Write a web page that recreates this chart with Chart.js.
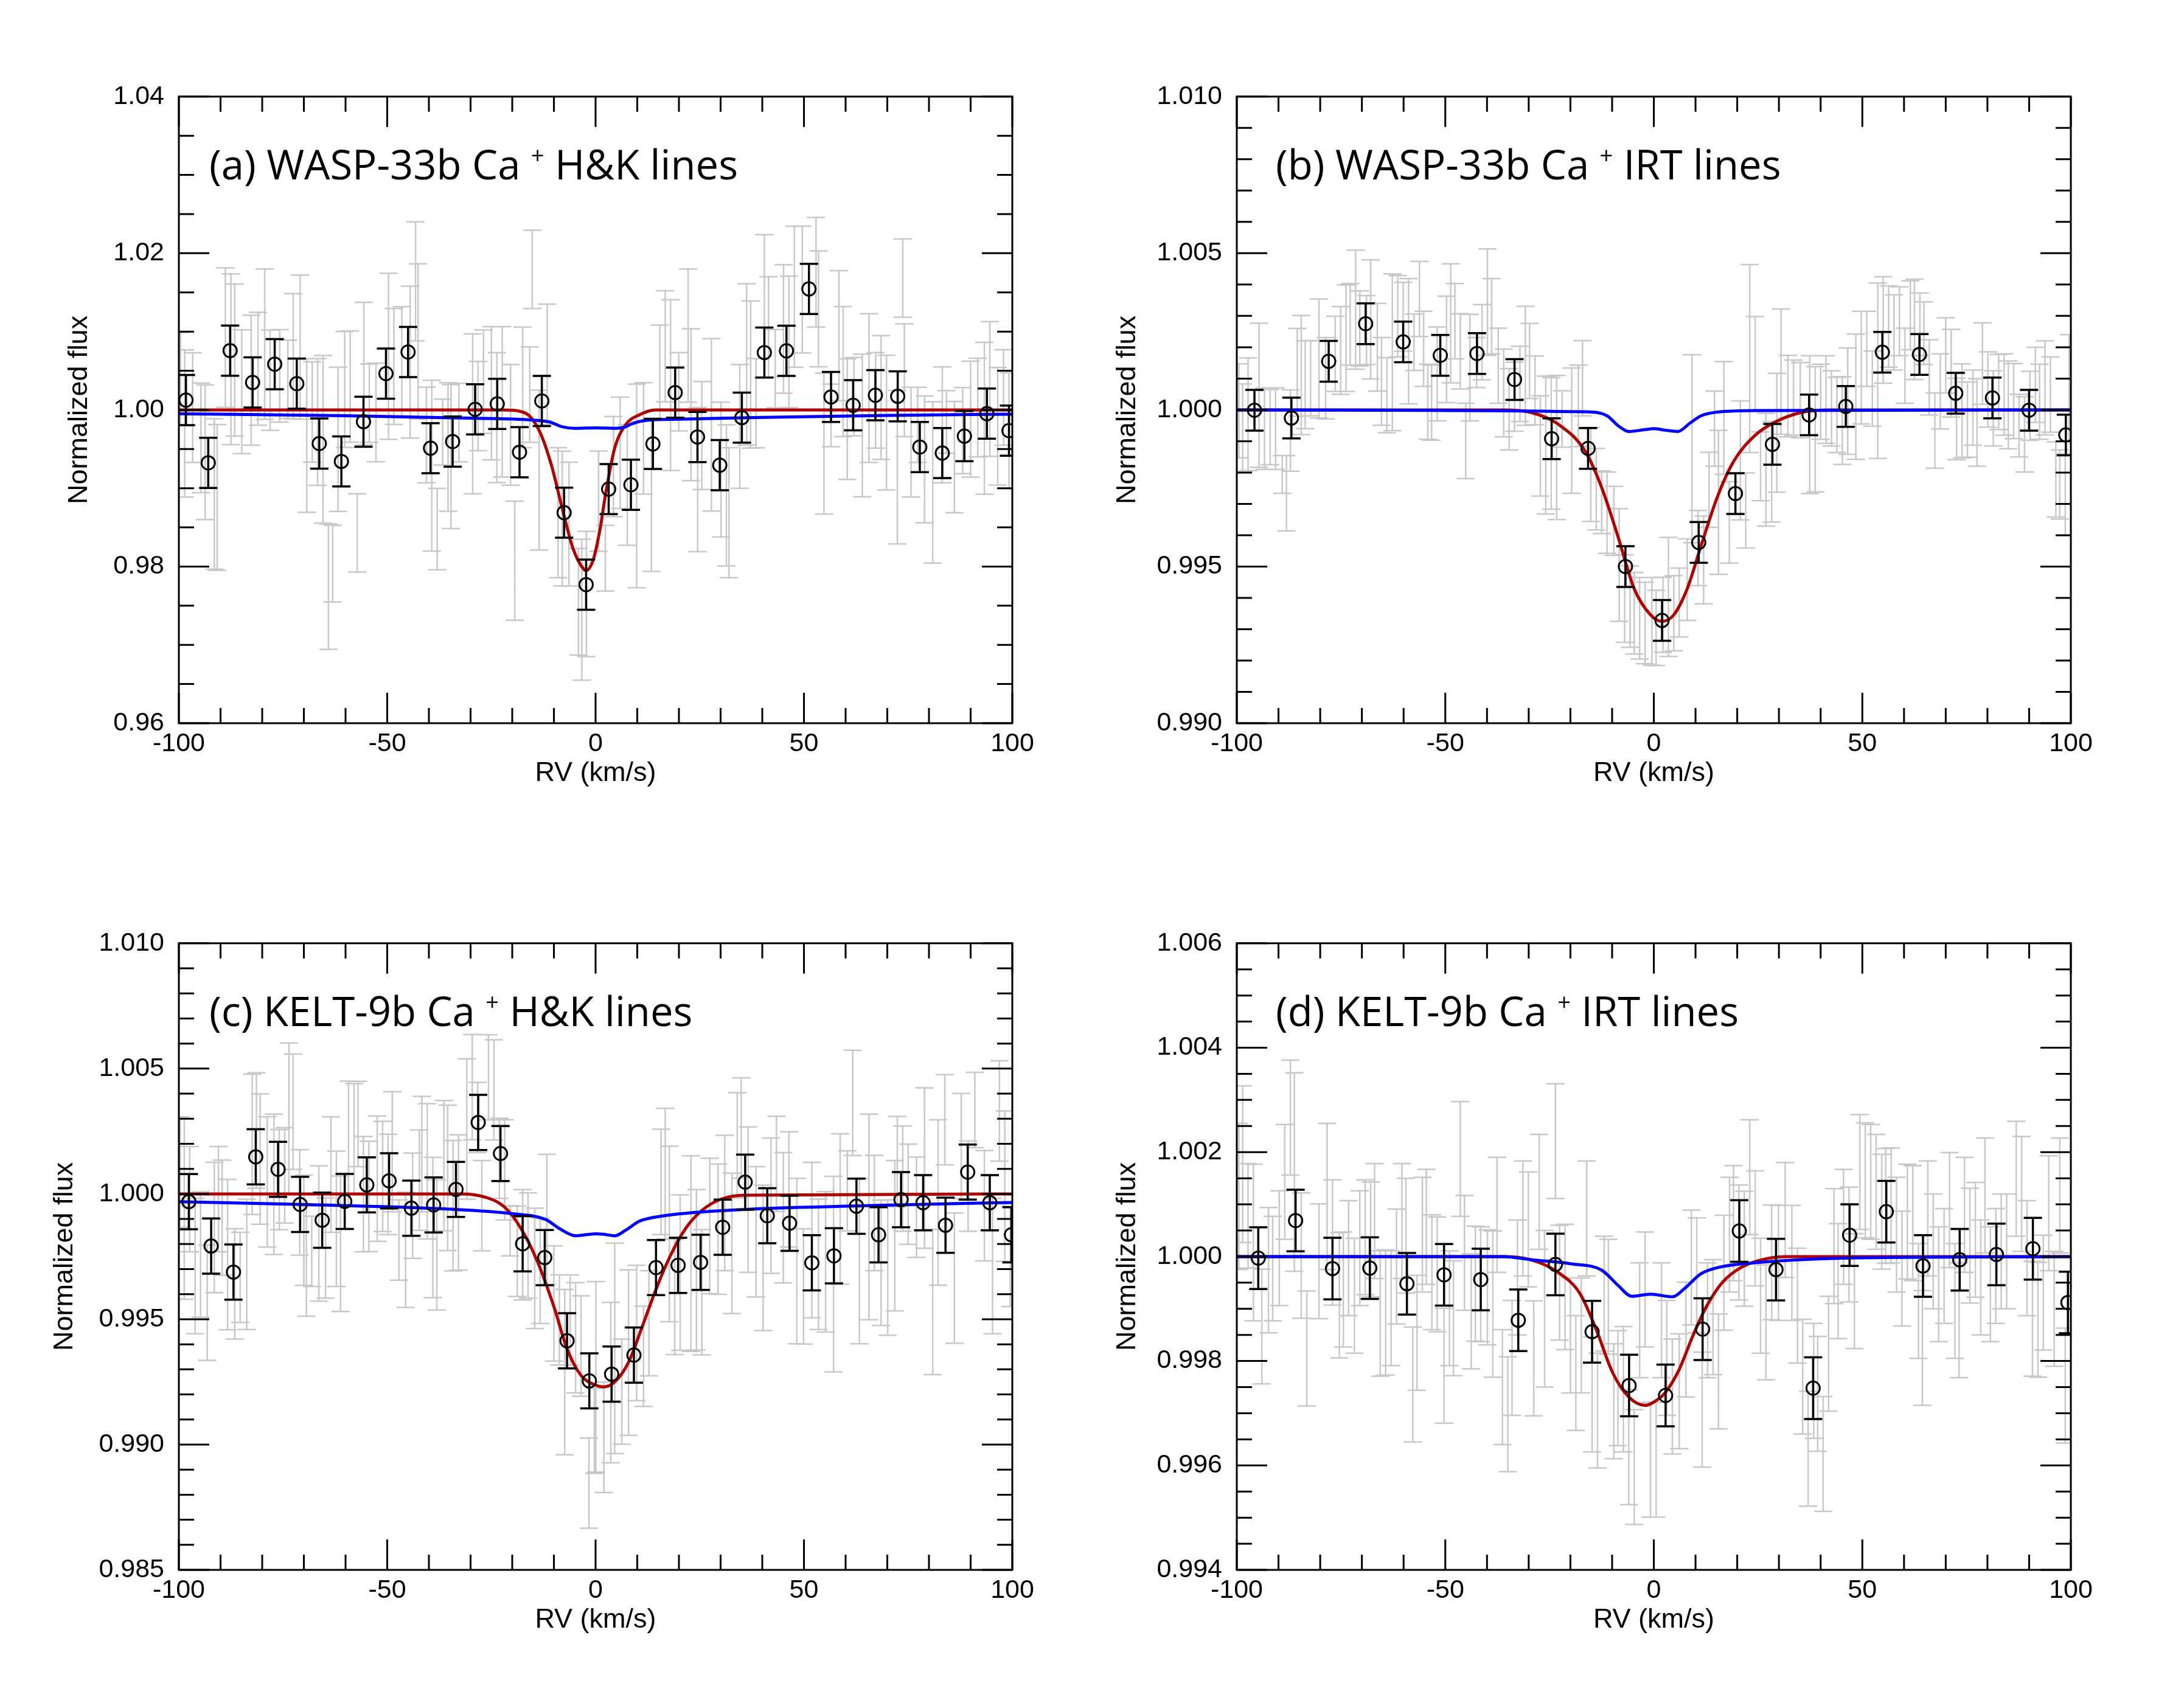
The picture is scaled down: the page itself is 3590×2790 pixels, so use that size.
<!DOCTYPE html>
<html>
<head>
<meta charset="utf-8">
<script src="https://cdn.jsdelivr.net/npm/chart.js@4.4.1/dist/chart.umd.min.js"></script>
<style>
  html, body { margin: 0; padding: 0; background: #fff; }
  body { width: 3590px; height: 2790px; position: relative; overflow: hidden; }
  canvas { position: absolute; }
</style>
</head>
<body>
<canvas id="pa"></canvas>
<canvas id="pb"></canvas>
<canvas id="pc"></canvas>
<canvas id="pd"></canvas>
<script>
// ── axis labels ─────────────────────────────────────────────
const xTicks = ['-100', '-50', '0', '50', '100'];
const aYTicks = ['0.96', '0.98', '1.00', '1.02', '1.04'];
const bYTicks = ['0.990', '0.995', '1.000', '1.005', '1.010'];
const cYTicks = ['0.985', '0.990', '0.995', '1.000', '1.005', '1.010'];
const dYTicks = ['0.994', '0.996', '0.998', '1.000', '1.002', '1.004', '1.006'];

const titleA = ['(a) WASP-33b Ca', '+', 'H&K lines'];
const titleB = ['(b) WASP-33b Ca', '+', 'IRT lines'];
const titleC = ['(c) KELT-9b Ca', '+', 'H&K lines'];
const titleD = ['(d) KELT-9b Ca', '+', 'IRT lines'];

// ── (a) WASP-33b H&K ────────────────────────────────────────
const aBinX = [-98.3, -92.95, -87.7, -82.3, -77.0, -71.7, -66.3, -61.0, -55.7, -50.3, -45.0, -39.6, -34.3, -28.9, -23.6, -18.25, -12.9, -7.55, -2.27,
  3.14, 8.48, 13.76, 19.1, 24.45, 29.8, 35.1, 40.5, 45.8, 51.2, 56.5, 61.8, 67.15, 72.5, 77.8, 83.2, 88.5, 93.9, 99.2];
const aBinY = [1.00125, 0.99324, 1.00757, 1.0035, 1.00584, 1.00335, 0.9957, 0.99342, 0.99849, 1.00463, 1.00739, 0.99511, 0.99596, 1.00007, 1.00077, 0.9946, 1.00114, 0.98688, 0.97769,
  0.98989, 0.99044, 0.99566, 1.00221, 0.99654, 0.99294, 0.99901, 1.00732, 1.00754, 1.01544, 1.00165, 1.00059, 1.00187, 1.00173, 0.99526, 0.99449, 0.99665, 0.99952, 0.99735];
const aBinErr = 0.0032;
const aRawX = [-99.6, -98.6, -96.7, -94.7, -93.7, -91.5, -90.8, -88.85, -87.5, -86.6, -84.9, -82.65, -81.0, -79.4, -78.1, -75.8, -73.85, -72.55, -70.9, -69.3,
  -68.0, -66.7, -65.4, -64.1, -63.1, -61.8, -60.2, -58.9, -57.2, -55.6, -54.3, -52.7, -49.7, -48.4, -46.5, -44.5, -43.2, -42.6, -40.6, -39.3,
  -38.0, -36.7, -35.4, -34.7, -32.8, -29.5, -28.2, -26.9, -25.0, -23.7, -22.4, -20.4, -19.4, -17.5, -15.8, -15.2, -13.55, -11.6, -9.0, -8.0,
  -6.4, -4.1, -3.3, -2.2,
  0.72, 2.35, 4.3, 5.9, 7.6, 9.85, 11.5, 13.4, 15.4, 16.7, 18.0, 19.95, 22.2, 22.9, 24.5, 25.5, 27.8, 30.1, 31.4, 32.0,
  34.6, 36.25, 37.2, 38.5, 40.5, 41.5, 43.1, 45.1, 46.4, 47.7, 49.6, 52.9, 53.5, 54.8, 56.5, 58.4, 59.4, 60.4, 62.0, 64.0,
  65.6, 67.2, 68.5, 69.8, 72.4, 73.7, 74.1, 75.7, 77.3, 78.95, 80.9, 83.2, 84.2, 86.1, 88.1, 90.0, 91.7, 93.3, 94.6, 96.5,
  97.9, 99.2];
const aRawY = [1.00397, 0.99827, 1.00029, 0.99643, 0.9946, 0.98927, 0.98882, 1.00923, 1.00647, 1.00636, 1.00232, 1.00379, 1.00526, 1.00838, 1.00379, 1.00434, 1.0039, 1.00684, 1.00801, 0.99673,
  0.99974, 0.99846, 0.99625, 0.97743, 0.98037, 0.99625, 1.00261, 1.00298, 0.9843, 1.00463, 1.00085, 0.99967, 1.00684, 1.00555, 1.00618, 1.0061, 1.0164, 1.00875, 0.9968, 0.99287,
  0.98478, 0.99717, 0.99526, 0.99404, 0.99838, 0.99949, 1.00048, 1.0036, 1.00213, 0.99901, 1.00103, 0.99809, 0.98074, 1.00287, 1.00195, 1.01794, 0.99232, 1.00581, 0.98688, 0.98614,
  0.98541, 0.9755, 0.9745, 0.9765,
  0.98835, 0.98107, 0.99276, 0.99452, 0.99041, 0.9903, 0.99636, 0.98908, 1.00482, 1.00812, 1.00316, 1.00232, 1.00948, 1.00066, 0.9911, 0.99673, 0.99809, 0.99239, 0.98908, 0.98688,
  0.9979, 1.00581, 1.00452, 1.00085, 1.01327, 1.01059, 1.00526, 1.01033, 1.00868, 1.01445, 1.01537, 1.01757, 1.0129, 0.9957, 0.9993, 1.00948, 1.00489, 0.99882, 1.00169, 0.99801,
  1.00279, 1.00121, 1.00158, 0.99838, 0.99268, 1.01684, 1.00379, 0.99588, 0.99809, 0.99368, 0.99074, 0.99809, 0.99846, 0.99397, 0.99735, 0.99882, 1.00029, 0.99893, 1.00268, 0.9979,
  1.00158, 0.99735];
const aRawErr = [0.0059, 0.0094, 0.007, 0.007, 0.0086, 0.0096, 0.0093, 0.0089, 0.0109, 0.0097, 0.0079, 0.0083, 0.0072, 0.0096, 0.0064, 0.0059, 0.005, 0.008, 0.0092, 0.0098,
  0.0064, 0.0081, 0.0107, 0.008, 0.0049, 0.0092, 0.0074, 0.0071, 0.005, 0.0091, 0.005, 0.0063, 0.0106, 0.0074, 0.007, 0.0097, 0.0076, 0.0099, 0.0061, 0.0109,
  0.0052, 0.0042, 0.0082, 0.0092, 0.005, 0.0102, 0.0057, 0.0066, 0.0085, 0.0083, 0.0096, 0.0077, 0.0076, 0.0077, 0.0061, 0.005, 0.0102, 0.0077, 0.0083, 0.0086,
  0.0079, 0.0068, 0.009, 0.008,
  0.0064, 0.0042, 0.0064, 0.0071, 0.0077, 0.013, 0.0071, 0.0097, 0.006, 0.0071, 0.0109, 0.005, 0.0085, 0.0097, 0.0092, 0.0069, 0.011, 0.0086, 0.009, 0.0083,
  0.0079, 0.0103, 0.0094, 0.0057, 0.0091, 0.0064, 0.005, 0.0082, 0.0084, 0.009, 0.0081, 0.007, 0.0074, 0.009, 0.004, 0.0083, 0.0083, 0.0077, 0.005, 0.0091,
  0.0095, 0.0061, 0.0079, 0.0086, 0.0098, 0.005, 0.0072, 0.007, 0.0048, 0.0081, 0.0103, 0.0074, 0.004, 0.0071, 0.0055, 0.0074, 0.0063, 0.0097, 0.0086, 0.0075,
  0.0061, 0.0074];
const aRedX = [-100, -30, -22, -18.4, -15.8, -13.2, -10.6, -8.0, -5.4, -2.8, -2.3, -0.6, 1.1, 2.4, 4.6, 7.2, 10.5, 14.4, 20, 100];
const aRedY = [1.0, 1.0, 1.0, 0.99985, 0.9992, 0.99699, 0.99294, 0.98743, 0.98228, 0.97963, 0.9795, 0.98081, 0.98486, 0.98927, 0.99515, 0.99809, 0.99937, 1.0, 1.0, 1.0];
const aBlueX = [-100, -60, -30, -15, -11, -8, -5, 0, 5, 7, 9, 12, 20, 40, 70, 100];
const aBlueY = [0.9995, 0.99925, 0.99895, 0.9987, 0.99845, 0.99785, 0.99765, 0.9977, 0.99765, 0.9978, 0.9983, 0.99865, 0.9988, 0.99905, 0.9993, 0.99945];

// ── (b) WASP-33b IRT ────────────────────────────────────────
const bBinX = [-95.76, -86.9, -77.96, -69.1, -60.1, -51.2, -42.4, -33.4, -24.5, -15.77, -6.8, 1.97, 10.77, 19.57, 28.44, 37.24, 46.04, 54.8, 63.7, 72.4, 81.2, 89.98, 98.8];
const bBinY = [0.99999, 0.99974, 1.00155, 1.00275, 1.00217, 1.00174, 1.0018, 1.00097, 0.99908, 0.99877, 0.995, 0.99328, 0.99577, 0.99733, 0.9989, 0.99984, 1.00011, 1.00184, 1.00177, 1.00053, 1.00038, 0.99999, 0.9992];
const bBinErr = 0.00065;
const bRawX = [-99.5, -98.6, -97.3, -94.65, -93.35, -92.0, -90.7, -89.1, -88.1, -87.15, -85.5, -84.55, -83.6, -82.3, -80.3, -78.7, -76.4, -75.1, -73.8, -72.8,
  -71.5, -70.5, -68.9, -67.9, -66.3, -65.3, -64.0, -62.7, -61.4, -60.1, -58.8, -57.5, -56.2, -55.2, -54.2, -53.3, -51.95, -49.7, -48.7, -47.7,
  -46.4, -45.1, -44.1, -42.5, -41.2, -39.9, -38.9, -37.3, -36.0, -34.7, -33.4, -32.1, -30.8, -29.8, -28.5, -27.2, -25.9, -24.6, -23.3, -22.0,
  -19.7, -18.1, -17.1, -15.1, -13.8, -12.5, -11.2, -9.6, -8.3, -7.0, -5.7, -4.7, -3.4, -2.1, -0.45,
  0.54, 2.2, 3.5, 4.8, 6.1, 8.0, 9.15, 10.6, 11.95, 13.25, 14.55, 15.5, 16.8, 18.1, 20.75, 22.05, 23.0, 24.3, 25.6, 26.9,
  28.25, 29.5, 30.5, 32.15, 33.5, 35.1, 37.4, 38.7, 40.0, 41.3, 42.6, 43.9, 45.2, 46.5, 48.45, 49.75, 51.06, 52.4, 53.7, 55.0,
  56.3, 57.6, 58.9, 60.2, 61.5, 62.5, 63.8, 64.75, 66.05, 67.4, 68.7, 70.0, 71.3, 72.6, 73.9, 75.2, 76.5, 77.5, 78.8, 80.1,
  81.4, 82.7, 84.0, 85.0, 86.3, 87.6, 88.9, 90.2, 91.5, 92.5, 93.8, 95.1, 96.4, 97.35, 98.65, 99.6];
const bRawY = [0.99997, 0.99943, 0.99986, 1.00047, 0.9994, 0.99945, 0.9994, 0.99794, 0.99734, 0.99934, 1.0012, 1.00111, 1.0008, 1.00101, 1.00164, 1.00101, 1.00179, 1.0019, 1.00229, 1.00273,
  1.0032, 1.0026, 1.00255, 1.00289, 1.002, 1.00091, 1.00047, 1.00184, 1.00299, 1.00297, 1.00219, 1.00216, 1.00354, 1.00195, 1.00026, 1.00023, 1.00115, 1.00193, 1.00276, 1.00283,
  1.00187, 0.99901, 1.00135, 1.00151, 1.00216, 1.00344, 1.00299, 1.00141, 1.00054, 1.00002, 1.00042, 1.00083, 1.00141, 1.00156, 1.00062, 0.99885, 0.99888, 0.99893, 0.9988, 0.99971,
  0.99934, 1.00013, 1.00101, 0.99794, 0.99747, 0.99705, 0.99672, 0.99646, 0.99505, 0.99398, 0.99372, 0.99351, 0.99335, 0.9932, 0.99325,
  0.99304, 0.99346, 0.99403, 0.99351, 0.99385, 0.99458, 0.99876, 0.99559, 0.99521, 0.99745, 0.9994, 0.99705, 0.99974, 0.99641, 0.99839, 0.99679, 1.00164, 1.00148, 0.9982, 0.99809,
  0.99802, 0.99927, 1.00122, 1.00044, 1.00039, 1.00031, 0.99953, 0.99938, 1.00026, 1.00033, 1.00005, 0.99984, 0.99966, 1.00028, 1.00042, 1.00135, 1.00195, 1.00068, 1.00125, 1.00255,
  1.00266, 1.00247, 1.00283, 1.00141, 1.00302, 1.00257, 1.00273, 1.00245, 1.00104, 0.99934, 1.00059, 1.00174, 1.00117, 0.99971, 0.99997, 0.99969, 1.00007, 0.9996, 1.00148, 1.00065,
  1.00005, 1.00057, 1.00049, 1.00016, 1.00028, 0.9995, 0.99922, 1.00013, 1.0008, 1.00026, 1.0007, 1.00049, 0.99778, 0.99762, 0.99729, 1.0007];
const bRawErr = [0.0015, 0.0014, 0.0018, 0.0023, 0.0013, 0.0012, 0.0013, 0.0006, 0.0012, 0.0013, 0.0014, 0.0019, 0.0014, 0.0012, 0.0019, 0.0013, 0.0012, 0.0014, 0.0017, 0.0013,
  0.0019, 0.0012, 0.0011, 0.0019, 0.0014, 0.0014, 0.0012, 0.0025, 0.0013, 0.0011, 0.002, 0.0009, 0.0012, 0.0012, 0.0012, 0.0012, 0.0015, 0.0017, 0.0019, 0.0012,
  0.0012, 0.0012, 0.0017, 0.0008, 0.0012, 0.0017, 0.0012, 0.0012, 0.0014, 0.0013, 0.0011, 0.0012, 0.0019, 0.0012, 0.0011, 0.0016, 0.0022, 0.0021, 0.0023, 0.0009,
  0.002, 0.0013, 0.0012, 0.0015, 0.0013, 0.001, 0.0013, 0.0011, 0.0018, 0.0014, 0.0013, 0.0013, 0.0013, 0.0013, 0.0014,
  0.0012, 0.0012, 0.0019, 0.0012, 0.0011, 0.0013, 0.003, 0.0012, 0.0014, 0.0012, 0.0012, 0.0023, 0.0018, 0.0013, 0.0019, 0.0012, 0.003, 0.0015, 0.0011, 0.0018,
  0.0016, 0.0019, 0.002, 0.0013, 0.0012, 0.0012, 0.0022, 0.002, 0.0012, 0.0014, 0.0012, 0.0012, 0.0014, 0.0017, 0.002, 0.0018, 0.0012, 0.0012, 0.0028, 0.0017,
  0.0013, 0.0012, 0.0011, 0.0012, 0.0011, 0.0016, 0.001, 0.001, 0.0012, 0.0012, 0.0012, 0.0012, 0.0014, 0.0013, 0.0015, 0.0012, 0.0012, 0.0014, 0.0013, 0.0012,
  0.0012, 0.0012, 0.0013, 0.0014, 0.0012, 0.001, 0.0012, 0.0011, 0.0012, 0.0012, 0.0015, 0.0012, 0.0012, 0.0011, 0.0013, 0.0017];
const bRedX = [-100, -36, -29.5, -23, -16.4, -12.5, -8.6, -4.7, -0.8, 2.0, 4.8, 8.0, 11.3, 15.2, 19.1, 24.3, 28.9, 35.4, 42, 100];
const bRedY = [1.0, 1.0, 0.99992, 0.99955, 0.99867, 0.99752, 0.99596, 0.99429, 0.99346, 0.99325, 0.99346, 0.99429, 0.99565, 0.99721, 0.99835, 0.99919, 0.9996, 0.99992, 1.0, 1.0];
const bBlueX = [-100, -16.4, -11.2, -8.6, -6.0, -2.1, 0, 2.8, 5.75, 8.7, 11.3, 15.9, 25.6, 100];
const bBlueY = [1.0, 0.99994, 0.99981, 0.9995, 0.99931, 0.99937, 0.9994, 0.99935, 0.99931, 0.99958, 0.99981, 0.99994, 0.99998, 1.0];

// ── (c) KELT-9b H&K ─────────────────────────────────────────
const cBinX = [-97.6, -92.25, -86.9, -81.55, -76.2, -70.9, -65.6, -60.2, -54.9, -49.55, -44.2, -38.86, -33.5, -28.17, -22.82, -17.5, -12.2, -6.85, -1.5,
  3.85, 9.2, 14.5, 19.8, 25.2, 30.5, 35.9, 41.2, 46.55, 51.9, 57.2, 62.6, 67.9, 73.3, 78.6, 83.97, 89.3, 94.6, 99.8];
const cBinY = [0.99969, 0.99792, 0.99688, 1.00148, 1.00098, 0.99958, 0.99895, 0.9997, 1.00036, 1.00052, 0.99943, 0.99956, 1.00018, 1.00285, 1.00161, 0.99801, 0.99746, 0.99414, 0.99254,
  0.99281, 0.99357, 0.99706, 0.99715, 0.99727, 0.99867, 1.00047, 0.99913, 0.99883, 0.99725, 0.99753, 0.99951, 0.99837, 0.99977, 0.99965, 0.99875, 1.00087, 0.99965, 0.99837];
const cBinErr = 0.0011;
const cRawX = [-99.7, -98.7, -97.4, -96.1, -94.8, -93.2, -91.5, -90.5, -89.6, -88.3, -86.6, -85.3, -83.7, -82.4, -81.4, -80.5, -78.8, -77.2, -75.9, -74.6,
  -73.6, -72.6, -71.0, -70.0, -69.4, -68.1, -66.4, -64.8, -63.5, -62.2, -61.2, -59.3, -57.95, -57.0, -55.7, -54.4, -52.4, -51.1, -49.8, -48.8,
  -47.2, -45.6, -43.9, -42.3, -41.7, -40.4, -39.05, -38.1, -36.4, -35.5, -34.2, -32.9, -30.9, -29.6, -28.3, -27.3, -25.7, -24.4, -23.1, -21.8,
  -20.5, -18.8, -17.5, -16.2, -14.6, -13.3, -11.7, -10.0, -8.7, -7.4, -6.1, -4.8, -3.5, -1.6, -0.3,
  0.07, 2.0, 3.65, 4.6, 6.3, 7.9, 9.85, 11.5, 12.8, 15.7, 16.7, 17.7, 19.0, 20.3, 22.9, 24.2, 25.5, 27.4, 29.4, 31.0,
  32.7, 34.0, 34.95, 36.6, 38.5, 40.2, 42.1, 43.4, 45.05, 46.4, 48.3, 49.9, 51.9, 53.5, 55.2, 57.1, 58.7, 60.4, 61.7, 63.3,
  65.6, 66.9, 68.5, 70.1, 71.8, 72.4, 73.7, 75.0, 77.0, 78.95, 80.9, 82.2, 83.8, 86.1, 87.75, 89.4, 91.0, 93.3, 95.25, 96.9,
  98.2, 99.5];
const cRawY = [1.00087, 0.9994, 0.99979, 0.99712, 0.99758, 0.99566, 0.99866, 0.99979, 0.99905, 0.99758, 0.99641, 0.99667, 0.99719, 1.00198, 1.00253, 1.00139, 1.00048, 1.00038, 1.00057, 1.00074,
  1.00302, 1.00328, 0.99966, 0.99855, 0.99732, 0.99771, 0.99842, 0.99784, 1.00077, 0.99901, 0.99801, 1.002, 1.0022, 1.00279, 0.99999, 0.9999, 1.00061, 1.0007, 1.00038, 1.00168,
  0.99816, 0.99777, 0.99953, 1.00055, 1.00159, 1.0009, 0.99866, 0.99797, 1.00113, 1.00064, 0.99953, 0.99966, 1.00259, 1.00426, 1.00305, 0.99953, 1.00465, 1.00415, 1.00142, 1.00096,
  0.99853, 0.99771, 0.99797, 0.99794, 0.99703, 0.99693, 0.99898, 0.99563, 0.99497, 0.99289, 0.99497, 0.99426, 0.99393, 0.98846, 0.99055,
  0.9927, 0.99029, 0.99247, 0.99384, 0.99211, 0.99367, 0.99445, 0.99352, 0.99484, 1.00048, 1.00081, 0.9984, 0.99589, 0.99686, 0.99762, 0.99697, 0.99608, 0.99872, 0.99859, 0.99964,
  0.99803, 1.00194, 1.00263, 0.99977, 0.99849, 0.99745, 0.99953, 1.0012, 0.99905, 1.00018, 0.99732, 0.99631, 0.99816, 0.99719, 0.99729, 0.9968, 0.9994, 1.00012, 1.00363, 0.99732,
  0.99908, 0.99924, 0.99725, 0.99706, 0.99833, 1.00129, 1.00061, 0.99999, 0.99947, 1.00103, 0.99569, 0.99966, 1.00296, 0.99664, 1.00191, 1.00031, 1.00335, 0.99953, 0.99712, 1.00331,
  1.00031, 0.99751];
const cRawErr = [0.0022, 0.0036, 0.0021, 0.0027, 0.0025, 0.0023, 0.0026, 0.0021, 0.0023, 0.003, 0.0022, 0.0018, 0.0026, 0.0028, 0.0023, 0.0026, 0.0026, 0.0028, 0.002, 0.0019,
  0.003, 0.0023, 0.0021, 0.0022, 0.0022, 0.0014, 0.0027, 0.002, 0.0023, 0.0027, 0.0027, 0.0025, 0.0022, 0.0017, 0.0023, 0.0022, 0.0025, 0.0022, 0.002, 0.0024,
  0.0016, 0.0023, 0.0021, 0.002, 0.0023, 0.0027, 0.0028, 0.0026, 0.0026, 0.0029, 0.0026, 0.0027, 0.0028, 0.0021, 0.0014, 0.0018, 0.0017, 0.002, 0.0016, 0.002,
  0.001, 0.0018, 0.0022, 0.0021, 0.0024, 0.0021, 0.0026, 0.0023, 0.0018, 0.0033, 0.0018, 0.0022, 0.002, 0.0018, 0.0017,
  0.0038, 0.0022, 0.0032, 0.0042, 0.0021, 0.0033, 0.0027, 0.002, 0.0021, 0.0021, 0.0026, 0.0035, 0.0023, 0.0031, 0.0039, 0.0032, 0.0025, 0.0027, 0.0026, 0.0027,
  0.0028, 0.0021, 0.002, 0.0029, 0.0026, 0.0029, 0.0027, 0.0019, 0.0026, 0.0023, 0.0033, 0.0023, 0.0031, 0.0026, 0.0028, 0.0039, 0.003, 0.0016, 0.0021, 0.0033,
  0.0041, 0.0023, 0.0025, 0.0027, 0.003, 0.0018, 0.0021, 0.002, 0.002, 0.0032, 0.0029, 0.0033, 0.0018, 0.0026, 0.0021, 0.0018, 0.0015, 0.0022, 0.0027, 0.002,
  0.003, 0.002];
const cRedX = [-100, -32, -26.3, -21.8, -17.9, -14.0, -10.0, -6.8, -3.5, 0, 2.0, 4.6, 7.9, 11.2, 14.4, 17.7, 21.6, 25.5, 30.1, 35.9, 100];
const cRedY = [1.0, 1.0, 0.99986, 0.99947, 0.99862, 0.99732, 0.9955, 0.9938, 0.99276, 0.99237, 0.9923, 0.9925, 0.99328, 0.99471, 0.99615, 0.99745, 0.99862, 0.99934, 0.99979, 0.99995, 1.0];
const cBlueX = [-100, -68.7, -36.1, -19.8, -12, -8.7, -4.8, 0, 2.0, 4.6, 7.2, 10.5, 15.7, 32, 64.6, 100];
const cBlueY = [0.99969, 0.99957, 0.9994, 0.99921, 0.99898, 0.99862, 0.99833, 0.99841, 0.99839, 0.99833, 0.99855, 0.99891, 0.99911, 0.99935, 0.99953, 0.99966];

// ── (d) KELT-9b IRT ─────────────────────────────────────────
const dBinX = [-94.85, -85.9, -77.05, -68.1, -59.2, -50.3, -41.5, -32.5, -23.6, -14.8, -5.93, 2.82, 11.7, 20.5, 29.3, 38.2, 46.95, 55.75, 64.55, 73.35, 82.15, 90.9, 99.3];
const dBinY = [0.99997, 1.00069, 0.99977, 0.99978, 0.99948, 0.99965, 0.99956, 0.99878, 0.99985, 0.99856, 0.99753, 0.99734, 0.99861, 1.00049, 0.99975, 0.99748, 1.00041, 1.00086, 0.99982, 0.99994, 1.00004, 1.00015, 0.99912];
const dBinErr = 0.00059;
const dRawX = [-99.5, -98.6, -97.3, -96.0, -94.0, -92.4, -91.4, -89.8, -88.5, -87.15, -86.2, -84.55, -83.2, -80.3, -78.35, -77.05, -75.4, -74.45, -73.2, -71.8,
  -70.5, -69.2, -67.9, -66.95, -65.6, -64.3, -63.0, -61.7, -60.4, -59.45, -57.8, -56.8, -55.5, -54.55, -53.2, -51.95, -50.3, -49.0, -48.05, -46.4,
  -45.4, -43.8, -42.8, -41.5, -39.9, -38.6, -37.6, -36.3, -35.0, -34.0, -32.7, -31.4, -30.1, -28.8, -27.5, -26.2, -23.6, -22.6, -21.3, -20.0,
  -18.7, -17.4, -16.1, -14.8, -13.5, -11.9, -10.9, -9.6, -8.6, -7.3, -6.0, -4.7, -3.4, -2.1, -0.8,
  0.54, 1.84, 3.1, 4.45, 6.1, 7.7, 9.0, 10.3, 11.6, 12.9, 14.2, 15.5, 16.8, 18.15, 19.1, 20.4, 21.7, 23.0, 24.3, 25.6,
  26.9, 28.25, 29.9, 31.5, 33.1, 34.45, 35.7, 37.0, 38.35, 39.3, 40.6, 41.9, 43.2, 44.2, 45.5, 46.8, 48.1, 49.4, 50.7, 52.0,
  53.3, 54.65, 55.6, 56.9, 58.2, 59.5, 60.8, 62.1, 63.45, 64.4, 65.7, 67.0, 68.3, 69.6, 70.9, 72.2, 73.2, 74.5, 75.8, 77.1,
  78.4, 79.4, 80.7, 82.0, 83.3, 84.6, 86.9, 88.2, 89.5, 90.8, 92.1, 93.4, 94.7, 96.0, 97.35, 98.65];
const dRawY = [1.00115, 1.00177, 1.00078, 1.00027, 0.99866, 0.99974, 0.99977, 1.00016, 1.00143, 1.00266, 1.00162, 1.00002, 0.99824, 0.99991, 1.00115, 1.00027, 0.99926, 0.99937, 0.99997, 0.99925,
  1.00016, 1.00037, 1.00033, 1.00068, 0.99891, 0.99893, 0.99901, 0.99981, 1.00068, 1.0004, 0.99755, 0.99854, 1.00042, 1.00057, 0.9997, 0.99966, 0.99791, 0.99901, 0.99882, 1.00187,
  1.00007, 0.99895, 0.99948, 0.99947, 0.99941, 0.99909, 1.0008, 0.9975, 0.99698, 0.99806, 0.9996, 1.00073, 1.00052, 0.99805, 1.00124, 0.999, 1.00221, 0.9995, 0.99942, 0.99849,
  0.99777, 0.99849, 1.00073, 0.99736, 0.99705, 0.99929, 0.99923, 0.99723, 0.99748, 0.99746, 0.99635, 0.99597, 0.99878, 0.99937, 0.99611,
  0.99611, 0.99878, 0.99806, 0.99732, 0.99742, 0.99841, 0.99979, 0.99964, 0.99707, 0.99878, 0.99884, 0.9978, 0.99969, 1.00042, 1.00064, 1.00027, 1.00015, 1.00152, 1.00054, 0.99925,
  0.99874, 0.99989, 0.99988, 1.0007, 0.99988, 0.99906, 0.9977, 0.99632, 0.99762, 0.99737, 0.99622, 0.99814, 1.0002, 0.99953, 1.00057, 1.00023, 0.99934, 1.00162, 1.00146, 1.00143,
  1.00124, 1.00086, 1.00097, 1.00098, 1.00042, 0.99977, 1.00067, 1.00064, 0.99915, 0.99825, 1.00073, 1.0001, 0.99947, 0.99982, 1.00089, 0.99915, 0.99878, 1.0008, 1.00021, 1.00032,
  0.9996, 1.00117, 0.99947, 0.99982, 1.0001, 1.0001, 1.00149, 1.0012, 0.99997, 0.99881, 0.99879, 0.99931, 1.00083, 0.999, 1.00117, 0.99753];
const dRawErr = [0.0014, 0.0015, 0.001, 0.0015, 0.0011, 0.0012, 0.001, 0.0011, 0.0011, 0.0011, 0.0019, 0.0012, 0.0011, 0.0011, 0.0014, 0.0012, 0.0012, 0.0011, 0.0011, 0.0011,
  0.0011, 0.0011, 0.0011, 0.0011, 0.0012, 0.0012, 0.0011, 0.0011, 0.0011, 0.0011, 0.0011, 0.0011, 0.0011, 0.0011, 0.0011, 0.0011, 0.0011, 0.0011, 0.0011, 0.0011,
  0.0011, 0.0011, 0.0011, 0.0011, 0.0011, 0.0014, 0.0011, 0.0011, 0.0011, 0.0011, 0.0011, 0.0011, 0.0011, 0.0011, 0.0011, 0.0015, 0.0011, 0.0011, 0.0012, 0.0011,
  0.0011, 0.0011, 0.0011, 0.0011, 0.0011, 0.0011, 0.0011, 0.0011, 0.0011, 0.0012, 0.0011, 0.0011, 0.0011, 0.0011, 0.0011,
  0.0011, 0.0011, 0.0011, 0.0011, 0.0011, 0.0011, 0.0011, 0.0011, 0.0011, 0.0011, 0.0011, 0.0011, 0.0011, 0.0011, 0.0011, 0.0011, 0.0011, 0.0011, 0.0011, 0.0011,
  0.0011, 0.0011, 0.0011, 0.0011, 0.0011, 0.0011, 0.0011, 0.0011, 0.0011, 0.0011, 0.0011, 0.0011, 0.0011, 0.0011, 0.0011, 0.0011, 0.0011, 0.0011, 0.0011, 0.0011,
  0.0011, 0.0011, 0.0011, 0.0011, 0.0011, 0.0011, 0.0011, 0.0011, 0.0011, 0.0011, 0.0011, 0.0011, 0.0011, 0.0011, 0.0011, 0.0011, 0.0011, 0.0011, 0.0011, 0.0011,
  0.0011, 0.0011, 0.0011, 0.0011, 0.0011, 0.0011, 0.0011, 0.0011, 0.0011, 0.0011, 0.0011, 0.0011, 0.0011, 0.0011, 0.0011, 0.0011];
const dRedX = [-100, -36, -29.5, -23, -17.7, -13.8, -9.9, -6.0, -2.1, 1.05, 2.8, 6.1, 9.3, 12.6, 16.5, 21.1, 27, 32.2, 100];
const dRedY = [1.0, 1.0, 0.99994, 0.9997, 0.99929, 0.9986, 0.99778, 0.99731, 0.99715, 0.99727, 0.9974, 0.99784, 0.99847, 0.99904, 0.99951, 0.9998, 0.99996, 1.0, 1.0];
const dBlueX = [-100, -36, -29.5, -19.7, -12.5, -8.6, -5.3, -0.8, 4.45, 7.4, 11.3, 15.9, 25.6, 45.2, 100];
const dBlueY = [1.0, 1.0, 0.99994, 0.99986, 0.99974, 0.99945, 0.99924, 0.99928, 0.99923, 0.99939, 0.99967, 0.9998, 0.99989, 0.99997, 1.0];

// ── layout ──────────────────────────────────────────────────
const PAD_L = 230, PAD_T = 40, PAD_R = 60, PAD_B = 140;
const GRAY = '#c8c8c8';
const RED = '#b00000';
const BLUE = '#0000ff';
const TICK_FONT = { family: "'Liberation Sans', Arial, sans-serif", size: 43 };
const LABEL_FONT = { family: "'Liberation Sans', Arial, sans-serif", size: 45 };

const panels = {
  pa: { left: 294, top: 149, w: 1370, h: 1040, yMin: 0.96, yMax: 1.04, yMajor: 0.02, yMinor: 0.005, yTicks: aYTicks, yTitlePad: 40, titleDx: 50, title: titleA,
        binX: aBinX, binY: aBinY, binErr: aBinErr, rawX: aRawX, rawY: aRawY, rawErr: aRawErr, redX: aRedX, redY: aRedY, blueX: aBlueX, blueY: aBlueY },
  pb: { left: 2033, top: 149, w: 1371, h: 1040, yMin: 0.99, yMax: 1.01, yMajor: 0.005, yMinor: 0.001, yTicks: bYTicks, yTitlePad: 24, titleDx: 64, title: titleB,
        binX: bBinX, binY: bBinY, binErr: bBinErr, rawX: bRawX, rawY: bRawY, rawErr: bRawErr, redX: bRedX, redY: bRedY, blueX: bBlueX, blueY: bBlueY },
  pc: { left: 294, top: 1541, w: 1370, h: 1040, yMin: 0.985, yMax: 1.01, yMajor: 0.005, yMinor: 0.001, yTicks: cYTicks, yTitlePad: 16, titleDx: 50, title: titleC,
        binX: cBinX, binY: cBinY, binErr: cBinErr, rawX: cRawX, rawY: cRawY, rawErr: cRawErr, redX: cRedX, redY: cRedY, blueX: cBlueX, blueY: cBlueY },
  pd: { left: 2033, top: 1541, w: 1371, h: 1040, yMin: 0.994, yMax: 1.006, yMajor: 0.002, yMinor: 0.0005, yTicks: dYTicks, yTitlePad: 24, titleDx: 64, title: titleD,
        binX: dBinX, binY: dBinY, binErr: dBinErr, rawX: dRawX, rawY: dRawY, rawErr: dRawErr, redX: dRedX, redY: dRedY, blueX: dBlueX, blueY: dBlueY },
};

function drawBars(ctx, xScale, yScale, xs, ys, errs, color, lw, cap) {
  ctx.strokeStyle = color;
  ctx.lineWidth = lw;
  ctx.beginPath();
  xs.forEach((xv, i) => {
    const e = Array.isArray(errs) ? errs[i] : errs;
    const px = xScale.getPixelForValue(xv);
    const top = yScale.getPixelForValue(ys[i] + e);
    const bot = yScale.getPixelForValue(ys[i] - e);
    ctx.moveTo(px, top); ctx.lineTo(px, bot);
    ctx.moveTo(px - cap, top); ctx.lineTo(px + cap, top);
    ctx.moveTo(px - cap, bot); ctx.lineTo(px + cap, bot);
  });
  ctx.stroke();
}

function clipArea(ctx, a) {
  ctx.beginPath();
  ctx.rect(a.left, a.top, a.right - a.left, a.bottom - a.top);
  ctx.clip();
}

const errorBars = {
  id: 'errorBars',
  beforeDatasetsDraw(chart) {
    const p = panels[chart.canvas.id];
    const { ctx, chartArea, scales } = chart;
    ctx.save();
    clipArea(ctx, chartArea);
    drawBars(ctx, scales.x, scales.y, p.rawX, p.rawY, p.rawErr, GRAY, 2.5, 15);
    ctx.restore();
  },
  afterDatasetsDraw(chart) {
    const p = panels[chart.canvas.id];
    const { ctx, chartArea, scales } = chart;
    ctx.save();
    clipArea(ctx, chartArea);
    drawBars(ctx, scales.x, scales.y, p.binX, p.binY, p.binErr, '#000', 3.5, 15);
    ctx.restore();
  },
};

// frame, inward ticks on all four sides, and the panel caption
const frame = {
  id: 'frame',
  afterDraw(chart) {
    const p = panels[chart.canvas.id];
    const { ctx, chartArea: a, scales: { x, y } } = chart;
    ctx.save();
    ctx.strokeStyle = '#000';
    ctx.lineWidth = 3;
    ctx.strokeRect(a.left, a.top, a.right - a.left, a.bottom - a.top);
    ctx.beginPath();
    for (let i = 0; i <= 20; i++) {
      const v = -100 + i * 10;
      const px = x.getPixelForValue(v);
      const len = i % 5 === 0 ? 50 : 25;
      ctx.moveTo(px, a.bottom); ctx.lineTo(px, a.bottom - len);
      ctx.moveTo(px, a.top); ctx.lineTo(px, a.top + len);
    }
    const n = Math.round((p.yMax - p.yMin) / p.yMinor);
    const per = Math.round(p.yMajor / p.yMinor);
    for (let i = 0; i <= n; i++) {
      const py = y.getPixelForValue(p.yMin + i * p.yMinor);
      const len = i % per === 0 ? 50 : 25;
      ctx.moveTo(a.left, py); ctx.lineTo(a.left + len, py);
      ctx.moveTo(a.right, py); ctx.lineTo(a.right - len, py);
    }
    ctx.stroke();

    const [main, sup, tail] = p.title;
    const x0 = a.left + p.titleDx;
    const base = a.top + 136;
    ctx.fillStyle = '#000';
    ctx.textBaseline = 'alphabetic';
    ctx.textAlign = 'left';
    ctx.font = "67px 'Open Sans'";
    ctx.fillText(main, x0, base);
    const w0 = ctx.measureText(main + ' ').width;
    ctx.font = "38px 'Open Sans'";
    ctx.fillText(sup, x0 + w0, base - 26);
    const w1 = ctx.measureText(sup).width;
    ctx.font = "67px 'Open Sans'";
    ctx.fillText(' ' + tail, x0 + w0 + w1, base);
    ctx.restore();
  },
};

function makeChart(id) {
  const p = panels[id];
  const canvas = document.getElementById(id);
  const cw = PAD_L + p.w + PAD_R;
  const chh = PAD_T + p.h + PAD_B;
  canvas.width = cw;
  canvas.height = chh;
  canvas.style.left = (p.left - PAD_L) + 'px';
  canvas.style.top = (p.top - PAD_T) + 'px';
  canvas.style.width = cw + 'px';
  canvas.style.height = chh + 'px';

  const toXY = (xs, ys) => xs.map((v, i) => ({ x: v, y: ys[i] }));

  return new Chart(canvas, {
    type: 'scatter',
    data: {
      datasets: [
        {
          label: 'binned',
          data: toXY(p.binX, p.binY),
          pointStyle: 'circle',
          pointRadius: 11,
          pointBorderWidth: 3,
          pointBorderColor: '#000',
          pointBackgroundColor: 'rgba(0,0,0,0)',
          showLine: false,
        },
        {
          type: 'line',
          label: 'blue model',
          data: toXY(p.blueX, p.blueY),
          borderColor: BLUE,
          borderWidth: 5,
          pointRadius: 0,
          cubicInterpolationMode: 'monotone',
          fill: false,
        },
        {
          type: 'line',
          label: 'fit',
          data: toXY(p.redX, p.redY),
          borderColor: RED,
          borderWidth: 5,
          pointRadius: 0,
          cubicInterpolationMode: 'monotone',
          fill: false,
        },
      ],
    },
    options: {
      responsive: false,
      devicePixelRatio: 1,
      animation: false,
      events: [],
      layout: { padding: { left: 0, top: PAD_T, right: PAD_R, bottom: 0 } },
      plugins: {
        legend: { display: false },
        tooltip: { enabled: false },
      },
      scales: {
        x: {
          type: 'linear',
          position: 'bottom',
          min: -100,
          max: 100,
          grid: { display: false, drawTicks: false },
          border: { display: false },
          afterBuildTicks: (s) => { s.ticks = xTicks.map(t => ({ value: parseFloat(t) })); },
          afterFit: (s) => { s.height = PAD_B; },
          ticks: {
            color: '#000',
            font: TICK_FONT,
            padding: 8,
            maxRotation: 0,
            autoSkip: false,
            callback: (v, i) => xTicks[i],
          },
          title: {
            display: true,
            text: 'RV (km/s)',
            color: '#000',
            font: LABEL_FONT,
            padding: { top: 0, bottom: 30 },
          },
        },
        y: {
          type: 'linear',
          position: 'left',
          min: p.yMin,
          max: p.yMax,
          grid: { display: false, drawTicks: false },
          border: { display: false },
          afterBuildTicks: (s) => { s.ticks = p.yTicks.map(t => ({ value: parseFloat(t) })); },
          afterFit: (s) => { s.width = PAD_L; },
          ticks: {
            color: '#000',
            font: TICK_FONT,
            padding: 24,
            autoSkip: false,
            callback: (v, i) => p.yTicks[i],
          },
          title: {
            display: true,
            text: 'Normalized flux',
            color: '#000',
            font: LABEL_FONT,
            padding: { top: p.yTitlePad, bottom: 0 },
          },
        },
      },
    },
    plugins: [errorBars, frame],
  });
}

['pa', 'pb', 'pc', 'pd'].forEach(makeChart);
</script>
</body>
</html>
